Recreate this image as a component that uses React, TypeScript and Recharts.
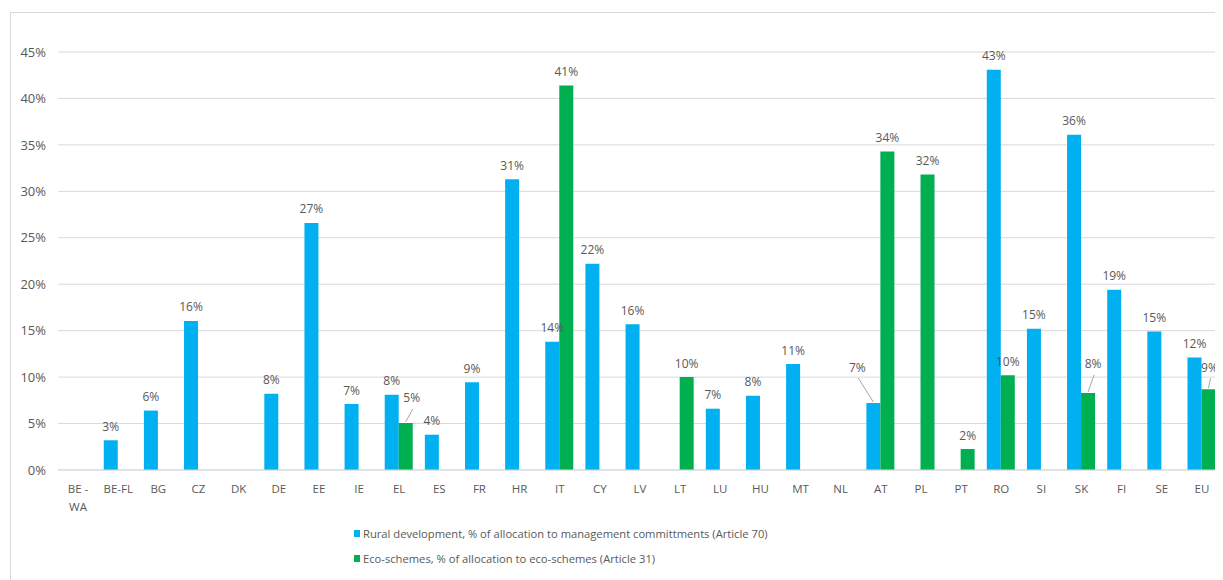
import { BarChart, Bar, XAxis, YAxis, CartesianGrid, LabelList } from "recharts";

// ------------------------------------------------------------
// Rural development vs eco-schemes allocation by member state
// ------------------------------------------------------------

const categories = [
  "BE - WA", "BE-FL", "BG", "CZ", "DK", "DE", "EE", "IE", "EL", "ES",
  "FR", "HR", "IT", "CY", "LV", "LT", "LU", "HU", "MT", "NL",
  "AT", "PL", "PT", "RO", "SI", "SK", "FI", "SE", "EU",
];

// % of allocation to management commitments (Article 70)
const ruralDev = [
  null, 3.2, 6.4, 16.05, null, 8.2, 26.6, 7.1, 8.1, 3.8,
  9.45, 31.3, 13.8, 22.2, 15.7, null, 6.6, 8.0, 11.4, null,
  7.2, null, null, 43.1, 15.2, 36.1, 19.4, 14.9, 12.1,
];

// % of allocation to eco-schemes (Article 31)
const ecoSchemes = [
  null, null, null, null, null, null, null, null, 5.06, null,
  null, null, 41.4, null, null, 10.0, null, null, null, null,
  34.3, 31.8, 2.26, 10.2, null, 8.3, null, null, 8.7,
];

const yTicks = [0, 5, 10, 15, 20, 25, 30, 35, 40, 45];

const series = [
  { key: "rural", name: "Rural development, % of allocation to management committments (Article 70)", color: "#00B0F0" },
  { key: "eco", name: "Eco-schemes, % of allocation to eco-schemes (Article 31)", color: "#00B050" },
];

const data = categories.map((c, i) => ({ name: c, rural: ruralDev[i], eco: ecoSchemes[i] }));

// labels Excel pulled aside with a leader line
const labelNudges: Record<string, { dx: number; dy: number }> = {
  "eco:EL": { dx: 6, dy: -25 },
  "rural:AT": { dx: -16, dy: -36 },
  "eco:SK": { dx: 5, dy: -29 },
  "eco:EU": { dx: 1, dy: -22 },
};

const TEXT = "#595959";
const FONT = "'Open Sans', sans-serif";

// no scrollbars: the frame runs off the right and bottom edges
if (typeof document !== "undefined") {
  document.documentElement.style.overflow = "hidden";
  document.body.style.overflow = "hidden";
}

function makeLabel(seriesKey: string) {
  return (props: any) => {
    const { x, y, width, value } = props;
    if (!value || value.v == null) return null;
    const cx = Number(x) + Number(width) / 2;
    const top = Number(y);
    const nudge = labelNudges[`${seriesKey}:${value.name}`];
    const lx = cx + (nudge ? nudge.dx : 0);
    const ly = top + (nudge ? nudge.dy : -14);
    return (
      <g>
        {nudge && (
          <line x1={cx} y1={top - 1} x2={lx + 1} y2={ly + 11} stroke="#a6a6a6" strokeWidth={1} />
        )}
        <text x={lx} y={ly + 4.5} textAnchor="middle" fill={TEXT} fontSize={12} fontFamily={FONT}>
          {Math.round(Number(value.v))}%
        </text>
      </g>
    );
  };
}

function CategoryTick({ x, y, payload }: any) {
  const parts = String(payload.value).split(" - ");
  const lines = parts.length > 1 ? [parts[0] + " -", parts[1]] : parts;
  return (
    <text x={x} y={y} textAnchor="middle" fill={TEXT} fontSize={11.5} fontFamily={FONT}>
      {lines.map((l, i) => (
        <tspan key={i} x={x} dy={i === 0 ? 15 : 18}>
          {l}
        </tspan>
      ))}
    </text>
  );
}

export default function App() {
  return (
    <div
      style={{
        position: "relative",
        width: 1215,
        height: 572,
        overflow: "hidden",
        background: "#fff",
      }}
    >
      <div
        style={{
          position: "absolute",
          left: 2,
          top: 4,
          width: 1300,
          height: 700,
          border: "1px solid #d9d9d9",
        }}
      />
      <div style={{ position: "absolute", left: 0, top: 0 }}>
        <BarChart
          width={1215}
          height={564}
          data={data}
          margin={{ top: 44, right: 1, left: 0, bottom: 0 }}
          barGap={0}
          barCategoryGap="14%"
          style={{ overflow: "visible" }}
        >
          <CartesianGrid vertical={false} stroke="#d9d9d9" />
          <XAxis
            dataKey="name"
            height={102}
            interval={0}
            tickLine={false}
            axisLine={{ stroke: "#d9d9d9" }}
            tick={<CategoryTick />}
          />
          <YAxis
            width={50}
            domain={[0, 45]}
            ticks={yTicks}
            tickFormatter={(v) => `${v}%`}
            axisLine={false}
            tickLine={false}
            tickMargin={6}
            tick={{ fontSize: 13, fill: TEXT, fontFamily: FONT }}
          />
          {series.map((s) => (
            <Bar key={s.key} dataKey={s.key} name={s.name} fill={s.color} isAnimationActive={false}>
              <LabelList
                dataKey={(d: any) => ({ v: d[s.key], name: d.name })}
                content={makeLabel(s.key)}
              />
            </Bar>
          ))}
        </BarChart>
      </div>
      <div
        style={{
          position: "absolute",
          left: 346,
          top: 513,
          fontFamily: FONT,
          fontSize: 11.2,
          color: TEXT,
          lineHeight: "25px",
        }}
      >
        {series.map((s) => (
          <div key={s.key} style={{ display: "flex", alignItems: "center", whiteSpace: "nowrap" }}>
            <span style={{ display: "inline-block", width: 6, height: 7, background: s.color, marginRight: 3 }} />
            {s.name}
          </div>
        ))}
      </div>
    </div>
  );
}
